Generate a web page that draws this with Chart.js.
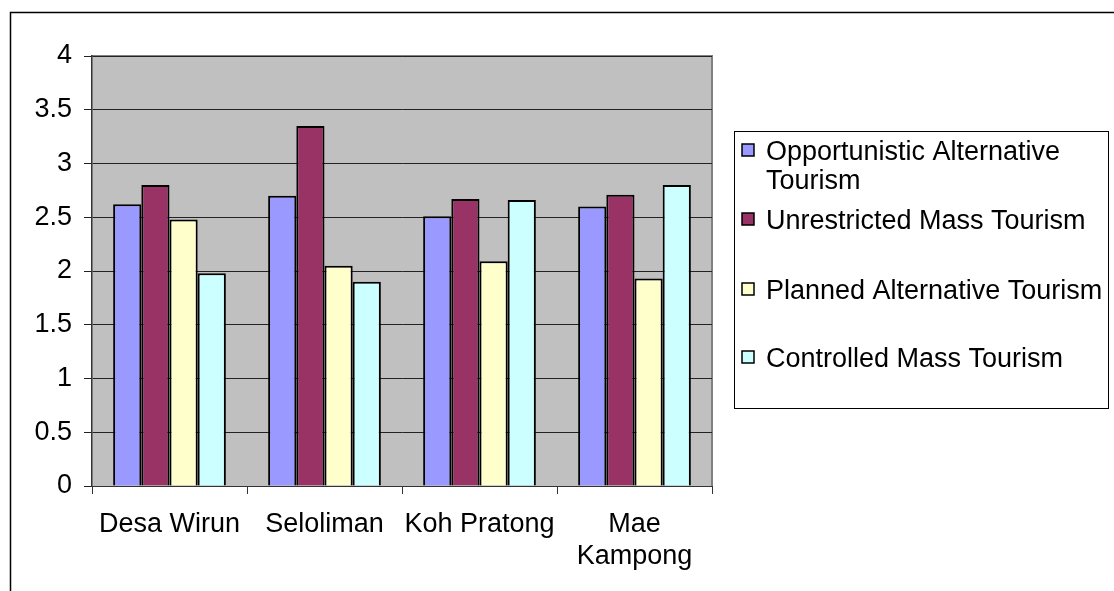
<!DOCTYPE html>
<html>
<head>
<meta charset="utf-8">
<script src="https://cdn.jsdelivr.net/npm/chart.js@4/dist/chart.umd.min.js"></script>
<style>
  html, body { margin: 0; padding: 0; background: #fff; }
  canvas { display: block; }
</style>
</head>
<body>
<canvas id="chart" width="1114" height="591"></canvas>
<script>
// villages on the x axis
const villages = [['Desa Wirun'], ['Seloliman'], ['Koh Pratong'], ['Mae', 'Kampong']];

// scores per tourism type, one value per village
const opportunisticAlt = [2.62, 2.70, 2.51, 2.60];
const unrestrictedMass = [2.80, 3.35, 2.67, 2.71];
const plannedAlt = [2.48, 2.05, 2.09, 1.93];
const controlledMass = [1.98, 1.90, 2.66, 2.80];

const seriesNames = [
  'Opportunistic Alternative Tourism',
  'Unrestricted Mass Tourism',
  'Planned Alternative Tourism',
  'Controlled Mass Tourism'
];
// how each legend entry breaks into lines
const legendLines = [
  ['Opportunistic Alternative', 'Tourism'],
  ['Unrestricted Mass Tourism'],
  ['Planned Alternative Tourism'],
  ['Controlled Mass Tourism']
];

const yTicks = [0, 0.5, 1, 1.5, 2, 2.5, 3, 3.5, 4];

const fillColors = ['#9999FF', '#993366', '#FFFFCC', '#CCFFFF'];
const FONT = 'Arial, "Liberation Sans", sans-serif';
const FONT_SIZE = 27;

// grey plot area with its border, plus the outer frame
const plotBackground = {
  id: 'plotBackground',
  beforeDraw(chart) {
    const { ctx, chartArea: a } = chart;
    ctx.save();
    ctx.fillStyle = '#C0C0C0';
    ctx.fillRect(a.left, a.top, a.right - a.left, a.bottom - a.top);
    ctx.strokeStyle = '#808080';
    ctx.lineWidth = 2;
    ctx.beginPath();
    ctx.moveTo(a.left, a.top);
    ctx.lineTo(a.right, a.top);
    ctx.lineTo(a.right, a.bottom);
    ctx.stroke();

    ctx.strokeStyle = '#000';
    ctx.lineWidth = 1.5;
    ctx.beginPath();
    ctx.moveTo(10.5, chart.height);
    ctx.lineTo(10.5, 12.5);
    ctx.lineTo(chart.width, 12.5);
    ctx.stroke();
    ctx.restore();
  }
};

// boxed legend to the right of the plot
const boxLegend = {
  id: 'boxLegend',
  afterDraw(chart) {
    const { ctx } = chart;
    const box = { x: 734.5, y: 131.5, w: 374, h: 277 };
    const entryTops = [153, 222, 292, 360];
    ctx.save();
    ctx.strokeStyle = '#000';
    ctx.lineWidth = 1;
    ctx.strokeRect(box.x, box.y, box.w, box.h);

    ctx.font = FONT_SIZE + 'px ' + FONT;
    ctx.textBaseline = 'middle';
    chart.data.datasets.forEach((ds, i) => {
      const y = entryTops[i];
      ctx.fillStyle = ds.backgroundColor;
      ctx.fillRect(742, y - 9, 12, 12);
      ctx.strokeStyle = '#000';
      ctx.lineWidth = 1.5;
      ctx.strokeRect(742, y - 9, 12, 12);
      ctx.fillStyle = '#000';
      legendLines[i].forEach((line, j) => {
        ctx.fillText(line, 766, y + j * 29);
      });
    });
    ctx.restore();
  }
};

const seriesData = [opportunisticAlt, unrestrictedMass, plannedAlt, controlledMass];

new Chart(document.getElementById('chart'), {
  type: 'bar',
  data: {
    labels: villages,
    datasets: seriesData.map((values, i) => ({
      label: seriesNames[i],
      data: values,
      backgroundColor: fillColors[i],
      borderColor: '#000',
      borderWidth: 2,
      barPercentage: 1,
      categoryPercentage: 4 / 5.5
    }))
  },
  options: {
    responsive: false,
    animation: false,
    layout: { padding: { top: 56, right: 402, left: 0, bottom: 0 } },
    plugins: {
      legend: { display: false },
      tooltip: { enabled: false }
    },
    scales: {
      x: {
        afterFit(scale) { scale.height = 105; },
        grid: {
          offset: true,
          drawOnChartArea: false,
          tickLength: 8,
          color: '#333'
        },
        border: { color: '#333', width: 1 },
        ticks: {
          color: '#000',
          padding: 14,
          maxRotation: 0,
          autoSkip: false,
          font: { family: FONT, size: FONT_SIZE, lineHeight: 1.19 }
        }
      },
      y: {
        min: 0,
        max: 4,
        afterFit(scale) { scale.width = 92; },
        afterBuildTicks(scale) { scale.ticks = yTicks.map(v => ({ value: v })); },
        grid: { color: '#222', tickLength: 8, lineWidth: 1 },
        border: { color: '#333', width: 1.5 },
        ticks: {
          color: '#000',
          padding: 12,
          callback: v => String(v),
          font: { family: FONT, size: FONT_SIZE }
        }
      }
    }
  },
  plugins: [plotBackground, boxLegend]
});
</script>
</body>
</html>
